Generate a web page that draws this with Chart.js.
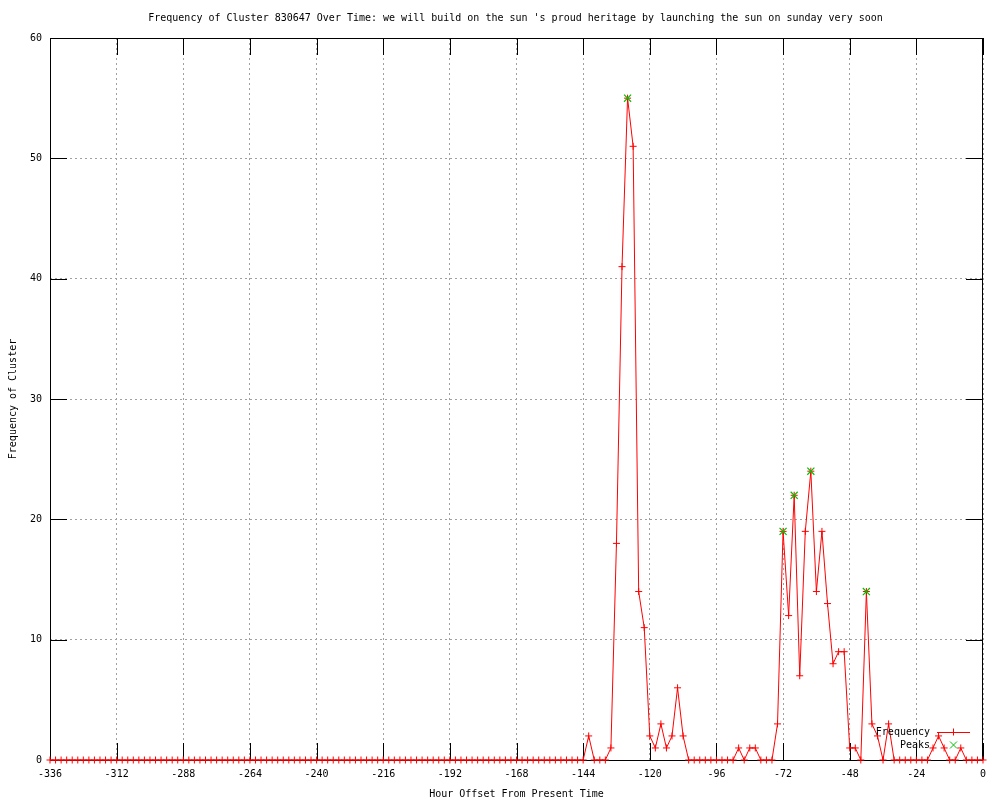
<!DOCTYPE html>
<html>
<head>
<meta charset="utf-8">
<script src="https://cdn.jsdelivr.net/npm/chart.js@4/dist/chart.umd.min.js"></script>
<style>
  body { margin: 0; background: #fff; }
</style>
</head>
<body>
<canvas id="chart" width="1000" height="800"></canvas>
<script>
// Chart text
const TITLE = "Frequency of Cluster 830647 Over Time: we will build on the sun 's proud heritage by launching the sun on sunday very soon";
const X_TITLE = 'Hour Offset From Present Time';
const Y_TITLE = 'Frequency of Cluster';

// Hours run from -336 to 0 in steps of 2
const hours = [];
for (let h = -336; h <= 0; h += 2) hours.push(h);

// Frequency at each hour
const freq = [
    0,0,0,0,0,0,0,0,0,0,0,0,0,0,0,0,0,0,0,0,   // -336 .. -298
    0,0,0,0,0,0,0,0,0,0,0,0,0,0,0,0,0,0,0,0,   // -296 .. -258
    0,0,0,0,0,0,0,0,0,0,0,0,0,0,0,0,0,0,0,0,   // -256 .. -218
    0,0,0,0,0,0,0,0,0,0,0,0,0,0,0,0,0,0,0,0,   // -216 .. -178
    0,0,0,0,0,0,0,0,0,0,0,0,0,0,0,0,0,         // -176 .. -144
    2,0,0,0,1,18,41,55,51,14,11,2,1,3,1,2,6,2, // -142 .. -108
    0,0,0,0,0,0,0,0,0,                         // -106 .. -90
    1,0,1,1,0,0,0,3,19,12,22,7,19,24,14,19,13,8,9,9, // -88 .. -50
    1,1,0,14,3,2,0,3,0,0,0,0,0,0,0,            // -48 .. -20
    1,2,1,0,0,1,0,0,0,0                        // -18 .. 0
];

// Marked peaks
const peakHours = [-128, -72, -68, -62, -42];
const peakValues = [55, 19, 22, 24, 14];

const FONT = { family: '"DejaVu Sans Mono", monospace', size: 10 };
const TICK = 17;

// Border, inward ticks, title and legend in the gnuplot style
const framePlugin = {
    id: 'frame',
    beforeDatasetsDraw(chart) {
        const { ctx, chartArea: a, scales } = chart;
        ctx.save();
        ctx.strokeStyle = '#000';
        ctx.lineWidth = 1;
        ctx.beginPath();
        scales.x.ticks.forEach(t => {
            const px = Math.round(scales.x.getPixelForValue(t.value)) + 0.5;
            ctx.moveTo(px, a.bottom); ctx.lineTo(px, a.bottom - TICK);
            ctx.moveTo(px, a.top); ctx.lineTo(px, a.top + TICK);
        });
        scales.y.ticks.forEach(t => {
            const py = Math.round(scales.y.getPixelForValue(t.value)) + 0.5;
            ctx.moveTo(a.left, py); ctx.lineTo(a.left + TICK, py);
            ctx.moveTo(a.right, py); ctx.lineTo(a.right - TICK, py);
        });
        ctx.stroke();
        ctx.strokeRect(a.left + 0.5, a.top + 0.5, a.right - a.left - 1, a.bottom - a.top);
        ctx.restore();
    },
    afterDraw(chart) {
        const { ctx, chartArea: a } = chart;
        ctx.save();
        ctx.font = FONT.size + 'px ' + FONT.family;
        ctx.fillStyle = '#000';
        ctx.textBaseline = 'middle';

        // title, centred over the plot
        ctx.textAlign = 'center';
        ctx.fillText(TITLE, (a.left + a.right) / 2 - 1, 18);

        // legend, bottom right inside the plot
        const tx = a.right - 53, lx1 = a.right - 46, lx2 = a.right - 13, mx = a.right - 29.5;
        const y1 = a.bottom - 28, y2 = a.bottom - 15;
        ctx.textAlign = 'right';
        ctx.fillText('Frequency', tx, y1);
        ctx.fillText('Peaks', tx, y2);

        ctx.lineWidth = 1;
        ctx.strokeStyle = '#ff0000';
        ctx.beginPath();
        ctx.moveTo(lx1, y1 + 0.5); ctx.lineTo(lx2, y1 + 0.5);
        ctx.moveTo(mx, y1 - 3.5); ctx.lineTo(mx, y1 + 3.5);
        ctx.stroke();

        ctx.strokeStyle = '#00c000';
        ctx.beginPath();
        ctx.moveTo(mx - 3.5, y2 - 3.5); ctx.lineTo(mx + 3.5, y2 + 3.5);
        ctx.moveTo(mx + 3.5, y2 - 3.5); ctx.lineTo(mx - 3.5, y2 + 3.5);
        ctx.stroke();
        ctx.restore();
    }
};

new Chart(document.getElementById('chart'), {
    type: 'line',
    data: {
        datasets: [
            {
                label: 'Peaks',
                data: peakHours.map((h, i) => ({ x: h, y: peakValues[i] })),
                showLine: false,
                pointStyle: 'crossRot',
                pointRadius: 5,
                pointBorderColor: '#00c000',
                pointBorderWidth: 1.2,
                clip: false,
                order: 0
            },
            {
                label: 'Frequency',
                data: hours.map((h, i) => ({ x: h, y: freq[i] })),
                borderColor: '#ff0000',
                borderWidth: 1,
                pointStyle: 'cross',
                pointRadius: 3.5,
                pointBorderColor: '#ff0000',
                pointBorderWidth: 1,
                tension: 0,
                fill: false,
                clip: false,
                order: 1
            }
        ]
    },
    options: {
        responsive: false,
        animation: false,
        layout: { padding: { top: 38, right: 17, left: 0, bottom: 0 } },
        plugins: {
            legend: { display: false },
            title: { display: false },
            tooltip: { enabled: false }
        },
        scales: {
            x: {
                type: 'linear',
                min: -336,
                max: 0,
                ticks: { stepSize: 24, color: '#000', font: FONT, padding: 8, maxRotation: 0 },
                grid: { color: '#a0a0a0', drawTicks: false },
                border: { display: false, dash: [2, 3] },
                title: { display: true, text: X_TITLE, color: '#000', font: FONT, padding: { top: 0, bottom: 0 } },
                afterFit: scale => { scale.height = 40; }
            },
            y: {
                min: 0,
                max: 60,
                ticks: { stepSize: 10, color: '#000', font: FONT, padding: 8 },
                grid: { color: '#a0a0a0', drawTicks: false },
                border: { display: false, dash: [2, 3] },
                title: { display: true, text: Y_TITLE, color: '#000', font: FONT, padding: { top: 7, bottom: 0 } },
                afterFit: scale => { scale.width = 50; }
            }
        }
    },
    plugins: [framePlugin]
});
</script>
</body>
</html>
